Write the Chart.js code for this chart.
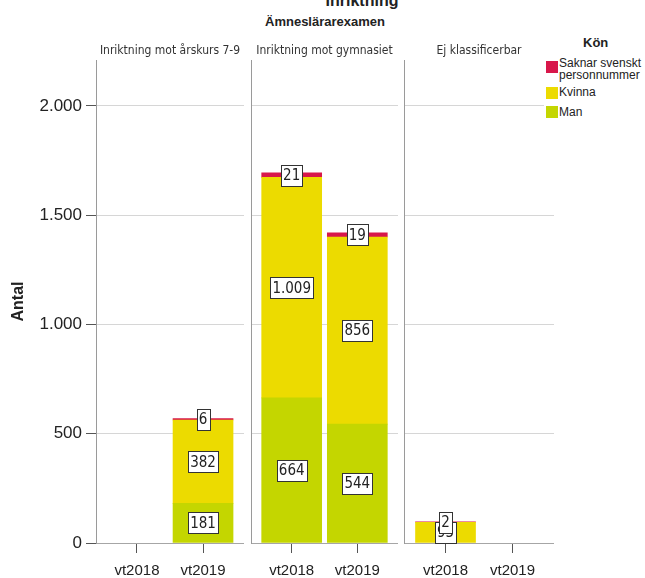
<!DOCTYPE html>
<html>
<head>
<meta charset="utf-8">
<script src="https://cdn.jsdelivr.net/npm/chart.js@4.4.1/dist/chart.umd.min.js"></script>
<style>
  body { margin: 0; background: #fff; }
  #wrap { position: relative; width: 645px; height: 578px; overflow: hidden; background: #fff;
          font-family: 'Liberation Sans', Arial, sans-serif; color: #222; }
  #wrap canvas { position: absolute; top: 0; }
  .rubrik { position: absolute; text-align: center; white-space: nowrap; }
  .panelrubrik { position: absolute; top: 43px; text-align: center; white-space: nowrap;
                 font-family: 'Liberation Sans Narrow', 'Arial Narrow', 'DejaVu Sans Condensed', sans-serif;
                 font-size: 12px; line-height: 14px; color: #333; }
  #legend { position: absolute; left: 544px; top: 30px; width: 101px; height: 95px; background: #fff; }
  .post { position: absolute; left: 15px; font-size: 12px; line-height: 12px; color: #222; }
  .ruta { position: absolute; left: 2px; width: 12px; height: 12px; }
</style>
</head>
<body>
<div id="wrap">
  <div class="rubrik" style="left:262px;width:200px;top:-7px;font-size:16px;line-height:16px;font-weight:bold;">Inriktning</div>
  <div class="rubrik" style="left:225px;width:200px;top:14px;font-size:13px;line-height:16px;font-weight:bold;">Ämneslärarexamen</div>
  <div id="legend"></div>
</div>

<script>
// data
const paneler = ['Inriktning mot årskurs 7-9', 'Inriktning mot gymnasiet', 'Ej klassificerbar'];
const terminer = ['vt2018', 'vt2019'];
const man = [[0, 181], [664, 544], [0, 0]];
const kvinna = [[0, 382], [1009, 856], [95, 0]];
const saknar = [[0, 6], [21, 19], [2, 0]];
const yTicks = [0, 500, 1000, 1500, 2000];

const serier = ['Man', 'Kvinna', 'Saknar svenskt personnummer'];
const farger = ['#c4d600', '#ecdb00', '#d8174a'];

// layout of the three panels
const panelX = [0, 251, 404];
const panelW = [244, 147, 150];
const axelW = [96, 0, 0];

const smal = "'Liberation Sans Narrow', 'Arial Narrow', 'DejaVu Sans Condensed', sans-serif";
const vanlig = "'Liberation Sans', Arial, sans-serif";

function tal(v) {
  return String(v).replace(/\B(?=(\d{3})+(?!\d))/g, '.');
}

const etikettPlugin = {
  id: 'etiketter',
  afterDatasetsDraw(chart) {
    const ctx = chart.ctx;
    ctx.save();
    ctx.font = '15px ' + smal;
    ctx.textAlign = 'center';
    ctx.textBaseline = 'middle';
    chart.data.datasets.forEach((ds, di) => {
      chart.getDatasetMeta(di).data.forEach((el, i) => {
        const v = ds.data[i];
        if (!v) return;
        const txt = tal(v);
        const w = Math.round(ctx.measureText(txt).width) + 4;
        const h = 21;
        const cy = (el.y + el.base) / 2;
        const x0 = Math.round(el.x - w / 2) + 0.5;
        const y0 = Math.round(cy - h / 2) + 0.5;
        ctx.fillStyle = '#fff';
        ctx.fillRect(x0, y0, w, h);
        ctx.strokeStyle = '#333';
        ctx.lineWidth = 1;
        ctx.strokeRect(x0, y0, w, h);
        ctx.fillStyle = '#222';
        ctx.fillText(txt, el.x, cy + 1);
      });
    });
    ctx.restore();
  }
};

const wrap = document.getElementById('wrap');
const reihe = [man, kvinna, saknar];

paneler.forEach((namn, p) => {
  const c = document.createElement('canvas');
  c.width = panelW[p];
  c.height = 578;
  c.style.left = panelX[p] + 'px';
  wrap.insertBefore(c, document.getElementById('legend'));

  const r = document.createElement('div');
  r.className = 'panelrubrik';
  r.style.left = (panelX[p] + axelW[p]) + 'px';
  r.style.width = (panelW[p] - axelW[p]) + 'px';
  r.textContent = namn;
  wrap.appendChild(r);

  new Chart(c, {
    type: 'bar',
    data: {
      labels: terminer,
      datasets: serier.map((s, si) => ({
        label: s,
        data: reihe[si][p].map(v => v || null),
        backgroundColor: farger[si],
        barThickness: 60
      }))
    },
    options: {
      responsive: false,
      animation: false,
      devicePixelRatio: 1,
      layout: { padding: { top: 60, left: 0, right: 0, bottom: 0 } },
      plugins: { legend: { display: false }, tooltip: { enabled: false } },
      scales: {
        x: {
          stacked: true,
          // a bit less side space than the default category offset
          afterBuildTicks: s => { s._startValue = -0.62; s._valueRange = 2.24; },
          afterFit: s => { s.height = 35; },
          ticks: {
            font: { size: 15, family: vanlig },
            color: '#222',
            padding: 9,
            maxRotation: 0,
            autoSkip: false
          },
          grid: { offset: false, drawOnChartArea: false, drawTicks: true, tickLength: 10, tickColor: '#555' },
          border: { color: '#a6a6a6' }
        },
        y: {
          stacked: true,
          min: 0,
          max: 2210,
          afterBuildTicks: s => { s.ticks = yTicks.map(v => ({ value: v })); },
          afterFit: s => { s.width = axelW[p]; },
          ticks: {
            display: p === 0,
            callback: v => tal(v),
            font: { size: 17, family: vanlig },
            color: '#222',
            padding: 4
          },
          grid: { color: '#d6d6d6', tickColor: '#555', tickLength: p === 0 ? 10 : 0, drawTicks: p === 0 },
          border: { color: '#9a9a9a' },
          title: {
            display: p === 0,
            text: 'Antal',
            font: { size: 16, weight: 'bold', family: vanlig },
            color: '#222',
            padding: { top: 9 }
          }
        }
      }
    },
    plugins: [etikettPlugin]
  });
});

// legend, top-down like the original
const legend = document.getElementById('legend');
legend.innerHTML =
  '<div style="position:absolute;left:39px;top:5px;font-size:13px;font-weight:bold;">Kön</div>' +
  '<div class="ruta" style="top:31px;background:' + farger[2] + '"></div>' +
  '<div class="post" style="top:27px;">Saknar svenskt<br>personnummer</div>' +
  '<div class="ruta" style="top:57px;background:' + farger[1] + '"></div>' +
  '<div class="post" style="top:56px;">' + serier[1] + '</div>' +
  '<div class="ruta" style="top:76px;background:' + farger[0] + '"></div>' +
  '<div class="post" style="top:76px;">' + serier[0] + '</div>';
</script>
</body>
</html>
